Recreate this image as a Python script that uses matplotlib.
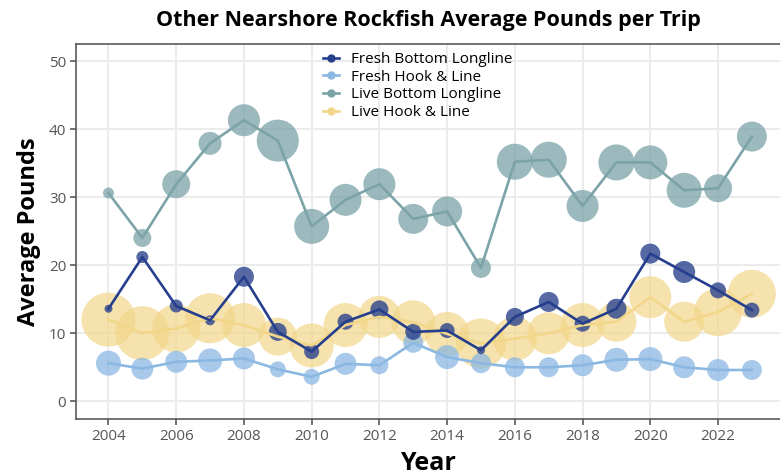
import numpy as np
import matplotlib.pyplot as plt
from matplotlib.lines import Line2D

plt.rcParams['font.family'] = ['Open Sans', 'DejaVu Sans']

years = np.arange(2004, 2024)

# average pounds per trip by gear type
fresh_bottom = [13.6, 21.2, 14.0, 11.9, 18.3, 10.2, 7.3, 11.7, 13.5, 10.2,
                10.4, 7.5, 12.4, 14.6, 11.4, 13.6, 21.7, 19.0, 16.3, 13.4]
fresh_hook = [5.6, 4.8, 5.8, 6.0, 6.3, 4.7, 3.6, 5.5, 5.3, 8.6,
              6.5, 5.6, 5.0, 5.0, 5.3, 6.1, 6.2, 5.0, 4.6, 4.6]
live_bottom = [30.6, 24.0, 31.9, 37.9, 41.3, 38.3, 25.7, 29.6, 31.9, 26.8,
               27.9, 19.6, 35.2, 35.5, 28.7, 35.1, 35.1, 31.0, 31.3, 38.9]
live_hook = [12.0, 10.0, 10.7, 12.2, 11.2, 9.5, 8.2, 11.2, 12.4, 11.6,
             9.9, 8.5, 9.2, 10.0, 11.2, 11.7, 15.3, 11.7, 13.1, 15.8]

# relative point size (trip count scale)
fresh_bottom_n = [4, 6, 6.5, 5, 10, 9, 7.5, 8, 9, 8, 7.5, 4, 9, 10, 8, 10, 10, 11, 8, 7.5]
fresh_hook_n = [12.5, 11, 11, 12, 11, 8, 8, 11, 9, 10, 12, 10, 10, 10, 11, 12, 12, 11, 11, 10]
live_bottom_n = [5.5, 9, 14, 11.5, 16, 21, 17.5, 16, 16, 15, 15, 10, 18, 18, 16, 18, 17, 17.5, 14, 15]
live_hook_n = [27, 27, 24, 25, 22, 19, 22, 22, 21, 22, 22, 25, 22, 21, 22, 20, 21, 20, 24, 24]

labels = ['Fresh Bottom Longline', 'Fresh Hook & Line', 'Live Bottom Longline', 'Live Hook & Line']
colors = ['#263F8C', '#8BB8E2', '#7BA3A8', '#F2D68A']
series = [fresh_bottom, fresh_hook, live_bottom, live_hook]
sizes = [fresh_bottom_n, fresh_hook_n, live_bottom_n, live_hook_n]
alphas = [0.78, 0.75, 0.75, 0.7]


def area(n):
    return (1.44 * np.asarray(n)) ** 2


fig = plt.figure(figsize=(7.8, 4.75), dpi=100)
ax = fig.add_axes([0.0974, 0.1179, 0.9026, 0.7895])

# points first (yellow at the back), lines above them
for i in [2, 3, 1, 0]:
    ax.scatter(years, series[i], s=area(sizes[i]), color=colors[i],
               alpha=alphas[i], linewidths=0, zorder=2 + (3 - i) * 0.1)
for i in [2, 3, 1, 0]:
    ax.plot(years, series[i], color=colors[i], lw=1.9, zorder=3 + (3 - i) * 0.1)

ax.set_xlim(2003.04, 2023.83)
ax.set_ylim(-2.6, 52.5)
ax.set_xticks(np.arange(2004, 2024, 2))
ax.set_yticks(np.arange(0, 51, 10))
ax.grid(color='#EBEBEB', lw=1.4)
ax.set_axisbelow(True)

for side in ['left', 'bottom', 'top']:
    ax.spines[side].set_color('#4D4D4D')
    ax.spines[side].set_linewidth(1.1)
ax.spines['right'].set_visible(False)
ax.tick_params(colors='#4D4D4D', labelcolor='#555555', labelsize=11,
               length=4, width=1.1, pad=3)

ax.set_title('Other Nearshore Rockfish Average Pounds per Trip',
             fontsize=15.5, fontweight='bold', pad=13)
ax.set_xlabel('Year', fontsize=18, fontweight='bold', labelpad=5)
ax.set_ylabel('Average Pounds', fontsize=17, fontweight='bold', labelpad=6)

handles = [Line2D([0], [0], color=c, lw=1.9, marker='o', markersize=5) for c in colors]
ax.legend(handles, labels, loc='upper left', bbox_to_anchor=(0.34, 1.0),
          frameon=False, fontsize=11, handlelength=1.0, handletextpad=0.8,
          labelspacing=0.18, borderaxespad=0.12)

fig.savefig('out.png', dpi=100)
